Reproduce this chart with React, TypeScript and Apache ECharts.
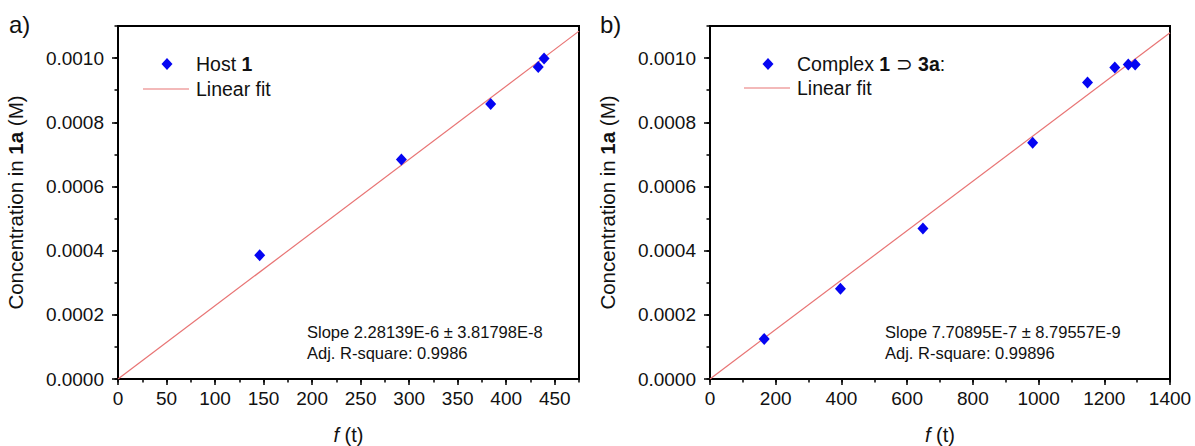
import React, { useEffect, useRef } from "react";
import * as echarts from "echarts";

// Panel a) Host 1
const hostX = [146, 292, 384, 433, 439];
const hostY = [0.000386, 0.000684, 0.000857, 0.000972, 0.000999];
const fitAX = [0, 475];
const fitAY = [0, 0.001084];

// Panel b) Complex 1 ⊃ 3a
const complexX = [165, 397, 648, 982, 1149, 1232, 1273, 1294];
const complexY = [0.000125, 0.000281, 0.000469, 0.000736, 0.000924, 0.000971, 0.00098, 0.00098];
const fitBX = [0, 1400];
const fitBY = [0, 0.001079];

const xTicksA = [0, 50, 100, 150, 200, 250, 300, 350, 400, 450];
const xTicksB = [0, 200, 400, 600, 800, 1000, 1200, 1400];
const yTicks = [0, 0.0002, 0.0004, 0.0006, 0.0008, 0.001];

const FONT = "'Liberation Sans', Arial, sans-serif";
const BLUE = "#0505f2";
const RED = "#e87474";
const TXT = "#111";

export default function App() {
  const ref = useRef<HTMLDivElement>(null);
  useEffect(() => {
    if (!ref.current) return;
    const chart = echarts.init(ref.current, null, { renderer: "svg" });

    const grids = [
      { left: 118, top: 26, width: 461, height: 353 },
      { left: 710, top: 26, width: 460, height: 353 },
    ];

    const axisLine = { show: true, onZero: false, lineStyle: { color: "#000", width: 2 } };

    const mkX = (gi: number, max: number, interval: number, ticks: number[]) => [
      {
        type: "value",
        gridIndex: gi,
        position: "bottom",
        min: 0,
        max,
        interval,
        axisLine,
        axisTick: { show: true, length: 6, customValues: ticks, lineStyle: { color: "#000", width: 1.5 } },
        axisLabel: {
          show: true,
          customValues: ticks,
          margin: 10,
          color: TXT,
          fontSize: 19,
          fontFamily: FONT,
          formatter: (v: number) => String(v),
        },
        splitLine: { show: false },
        name: "{i|f}{n| (t)}",
        nameLocation: "middle",
        nameGap: 46,
        nameTextStyle: {
          fontSize: 20,
          fontFamily: FONT,
          color: TXT,
          rich: {
            i: { fontStyle: "italic", fontSize: 20, fontFamily: FONT, color: TXT },
            n: { fontSize: 20, fontFamily: FONT, color: TXT },
          },
        },
      },
      {
        type: "value",
        gridIndex: gi,
        position: "bottom",
        min: 0,
        max,
        interval: interval / 2,
        axisLine: { show: false, onZero: false },
        axisTick: { show: true, length: 3.5, lineStyle: { color: "#000", width: 1.5 } },
        axisLabel: { show: false },
        splitLine: { show: false },
      },
    ];

    const mkY = (gi: number) => [
      {
        type: "value",
        gridIndex: gi,
        position: "left",
        min: 0,
        max: 0.0011,
        interval: 0.0002,
        axisLine,
        axisTick: { show: true, length: 6, customValues: yTicks, lineStyle: { color: "#000", width: 1.5 } },
        axisLabel: {
          show: true,
          customValues: yTicks,
          margin: 14,
          color: TXT,
          fontSize: 19,
          fontFamily: FONT,
          formatter: (v: number) => v.toFixed(4),
        },
        splitLine: { show: false },
        name: "{n|Concentration in }{b|1a}{n| (M)}",
        nameLocation: "middle",
        nameRotate: 90,
        nameGap: 92,
        nameTextStyle: {
          fontSize: 20.5,
          fontFamily: FONT,
          color: TXT,
          rich: {
            n: { fontSize: 20.5, fontFamily: FONT, color: TXT },
            b: { fontSize: 20.5, fontFamily: FONT, fontWeight: "bold", color: TXT },
          },
        },
      },
      {
        type: "value",
        gridIndex: gi,
        position: "left",
        min: 0,
        max: 0.0011,
        interval: 0.0001,
        axisLine: { show: false, onZero: false },
        axisTick: { show: true, length: 3.5, lineStyle: { color: "#000", width: 1.5 } },
        axisLabel: { show: false },
        splitLine: { show: false },
      },
    ];

    const zip = (xs: number[], ys: number[]) => xs.map((x, i) => [x, ys[i]]);

    const diamond = (x: number, y: number) => ({
      type: "polygon",
      shape: { points: [[x, y - 6], [x + 5.5, y], [x, y + 6], [x - 5.5, y]] },
      style: { fill: BLUE },
    });
    const legendLine = (x1: number, x2: number, y: number) => ({
      type: "line",
      shape: { x1, y1: y, x2, y2: y },
      style: { stroke: RED, lineWidth: 1.2 },
    });
    const txt = (x: number, y: number, text: string, extra: any = {}) => ({
      type: "text",
      x,
      y,
      style: {
        text,
        fontSize: 19.5,
        fontFamily: FONT,
        fill: TXT,
        verticalAlign: "middle",
        ...extra,
      },
    });
    const richStyle = {
      n: { fontSize: 19.5, fontFamily: FONT, fill: TXT, color: TXT },
      b: { fontSize: 19.5, fontFamily: FONT, fontWeight: "bold", fill: TXT, color: TXT },
    };

    const scatterStyle = { color: BLUE, opacity: 1 };

    chart.setOption({
      animation: false,
      backgroundColor: "#fff",
      grid: grids.map((g) => ({
        ...g,
        show: true,
        borderColor: "#000",
        borderWidth: 2,
        backgroundColor: "transparent",
        containLabel: false,
        outerBoundsMode: "none",
      })),
      xAxis: [...mkX(0, 475, 50, xTicksA), ...mkX(1, 1400, 200, xTicksB)],
      yAxis: [...mkY(0), ...mkY(1)],
      series: [
        {
          type: "line",
          xAxisIndex: 0,
          yAxisIndex: 0,
          data: zip(fitAX, fitAY),
          showSymbol: false,
          lineStyle: { color: RED, width: 1.2 },
          z: 2,
        },
        {
          type: "scatter",
          xAxisIndex: 0,
          yAxisIndex: 0,
          data: zip(hostX, hostY),
          symbol: "diamond",
          symbolSize: [11, 12],
          itemStyle: scatterStyle,
          z: 3,
        },
        {
          type: "line",
          xAxisIndex: 2,
          yAxisIndex: 2,
          data: zip(fitBX, fitBY),
          showSymbol: false,
          lineStyle: { color: RED, width: 1.2 },
          z: 2,
        },
        {
          type: "scatter",
          xAxisIndex: 2,
          yAxisIndex: 2,
          data: zip(complexX, complexY),
          symbol: "diamond",
          symbolSize: [11, 12],
          itemStyle: scatterStyle,
          z: 3,
        },
      ],
      graphic: [
        txt(9, 24, "a)", { fontSize: 24 }),
        txt(600, 24, "b)", { fontSize: 24 }),
        // legend a
        diamond(167, 64),
        {
          type: "text",
          x: 196,
          y: 64,
          style: { text: "{n|Host }{b|1}", rich: richStyle, verticalAlign: "middle", fontSize: 19.5, fontFamily: FONT },
        },
        legendLine(143, 189, 89),
        txt(196, 89, "Linear fit"),
        // legend b
        diamond(768, 64),
        {
          type: "text",
          x: 797,
          y: 64,
          style: {
            text: "{n|Complex }{b|1}{n| ⊃ }{b|3a}{n|:}",
            rich: richStyle,
            verticalAlign: "middle",
            fontSize: 19.5,
            fontFamily: FONT,
          },
        },
        legendLine(744, 790, 88),
        txt(797, 88, "Linear fit"),
        // fit statistics
        txt(307, 332, "Slope 2.28139E-6 ± 3.81798E-8", { fontSize: 16.5 }),
        txt(307, 353, "Adj. R-square: 0.9986", { fontSize: 16.5 }),
        txt(885, 332, "Slope 7.70895E-7 ± 8.79557E-9", { fontSize: 16.5 }),
        txt(885, 353, "Adj. R-square: 0.99896", { fontSize: 16.5 }),
      ],
    });
    return () => chart.dispose();
  }, []);
  return (
    <div
      ref={ref}
      style={{ position: "fixed", left: 0, top: 0, width: 1195, height: 446, background: "#fff" }}
    />
  );
}
